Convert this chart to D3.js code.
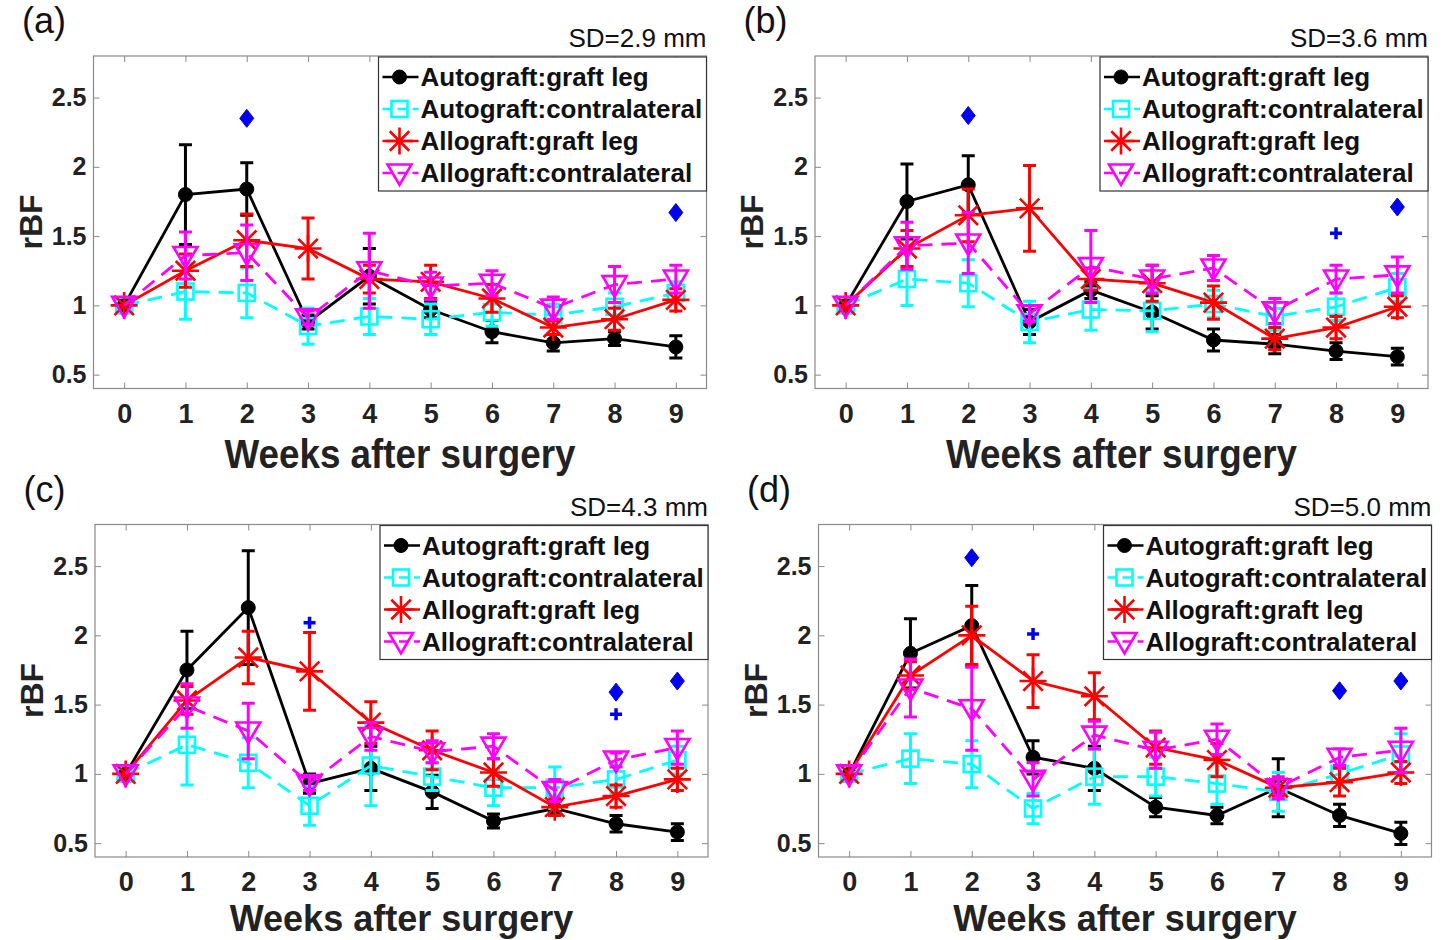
<!DOCTYPE html>
<html lang="en">
<head>
<meta charset="utf-8">
<title>rBF after surgery</title>
<script src="https://d3js.org/d3.v7.min.js"></script>
<style>
  body { margin: 0; background: #fff; }
  text { font-family: "Liberation Sans", Arial, sans-serif; }
</style>
</head>
<body>
<svg id="fig" width="1447" height="940"></svg>
<script>
// ---- data ----
var weeks = [0, 1, 2, 3, 4, 5, 6, 7, 8, 9]
var yTicks = [0.5, 1, 1.5, 2, 2.5]
var seriesNames = ["Autograft:graft leg", "Autograft:contralateral", "Allograft:graft leg", "Allograft:contralateral"]
var panelLabels = ["(a)", "(b)", "(c)", "(d)"]
var sdLabels = ["SD=2.9 mm", "SD=3.6 mm", "SD=4.3 mm", "SD=5.0 mm"]

// (a)
var aAutoGraft     = [1, 1.80, 1.84, 0.88, 1.21, 0.97, 0.81, 0.73, 0.76, 0.70]
var aAutoGraftErr  = [0, 0.36, 0.19, 0.05, 0.20, 0.06, 0.08, 0.06, 0.05, 0.08]
var aAutoContra    = [1, 1.10, 1.09, 0.85, 0.92, 0.90, 0.95, 0.93, 0.99, 1.09]
var aAutoContraErr = [0, 0.20, 0.18, 0.13, 0.13, 0.11, 0.10, 0.08, 0.10, 0.08]
var aAlloGraft     = [1, 1.25, 1.47, 1.41, 1.19, 1.17, 1.05, 0.84, 0.90, 1.04]
var aAlloGraftErr  = [0, 0.12, 0.19, 0.22, 0.10, 0.12, 0.10, 0.05, 0.08, 0.08]
var aAlloContra    = [1, 1.36, 1.38, 0.91, 1.25, 1.14, 1.16, 0.98, 1.15, 1.19]
var aAlloContraErr = [0, 0.17, 0.20, 0.05, 0.27, 0.10, 0.09, 0.08, 0.13, 0.10]
var aDiamond = [[2, 2.35], [9, 1.67]]
var aPlus = []

// (b)
var bAutoGraft     = [1, 1.75, 1.87, 0.88, 1.11, 0.95, 0.75, 0.72, 0.67, 0.63]
var bAutoGraftErr  = [0, 0.27, 0.21, 0.09, 0.06, 0.12, 0.08, 0.07, 0.06, 0.06]
var bAutoContra    = [1, 1.19, 1.16, 0.88, 0.97, 0.96, 1.01, 0.92, 0.99, 1.13]
var bAutoContraErr = [0, 0.19, 0.17, 0.15, 0.15, 0.15, 0.10, 0.10, 0.10, 0.10]
var bAlloGraft     = [1, 1.41, 1.65, 1.70, 1.19, 1.16, 1.02, 0.76, 0.84, 0.99]
var bAlloGraftErr  = [0, 0.13, 0.19, 0.31, 0.08, 0.13, 0.12, 0.08, 0.08, 0.08]
var bAlloContra    = [1, 1.43, 1.45, 0.94, 1.28, 1.19, 1.27, 0.96, 1.19, 1.22]
var bAlloContraErr = [0, 0.17, 0.22, 0.06, 0.26, 0.10, 0.09, 0.09, 0.10, 0.13]
var bDiamond = [[2, 2.37], [9, 1.71]]
var bPlus = [[8, 1.52]]

// (c)
var cAutoGraft     = [1, 1.75, 2.20, 0.93, 1.04, 0.87, 0.66, 0.75, 0.64, 0.58]
var cAutoGraftErr  = [0, 0.28, 0.41, 0.07, 0.16, 0.12, 0.05, 0.05, 0.06, 0.06]
var cAutoContra    = [1, 1.21, 1.08, 0.77, 1.06, 0.98, 0.90, 0.90, 0.96, 1.10]
var cAutoContraErr = [0, 0.29, 0.18, 0.14, 0.29, 0.10, 0.13, 0.15, 0.10, 0.10]
var cAlloGraft     = [1, 1.53, 1.84, 1.74, 1.37, 1.17, 1.01, 0.76, 0.84, 0.96]
var cAlloGraftErr  = [0, 0.10, 0.19, 0.28, 0.15, 0.14, 0.10, 0.06, 0.08, 0.08]
var cAlloContra    = [1, 1.49, 1.31, 0.93, 1.27, 1.16, 1.20, 0.88, 1.10, 1.19]
var cAlloContraErr = [0, 0.16, 0.20, 0.05, 0.10, 0.08, 0.09, 0.08, 0.05, 0.12]
var cDiamond = [[8, 1.59], [9, 1.67]]
var cPlus = [[3, 2.09], [8, 1.43]]

// (d)
var dAutoGraft     = [1, 1.87, 2.07, 1.12, 1.04, 0.76, 0.70, 0.90, 0.70, 0.57]
var dAutoGraftErr  = [0, 0.25, 0.29, 0.12, 0.16, 0.07, 0.06, 0.21, 0.08, 0.08]
var dAutoContra    = [1, 1.11, 1.07, 0.75, 0.98, 0.98, 0.93, 0.87, 1.00, 1.14]
var dAutoContraErr = [0, 0.18, 0.17, 0.11, 0.20, 0.14, 0.15, 0.14, 0.10, 0.15]
var dAlloGraft     = [1, 1.71, 2.00, 1.67, 1.56, 1.19, 1.10, 0.90, 0.94, 1.01]
var dAlloGraftErr  = [0, 0.10, 0.21, 0.19, 0.17, 0.12, 0.12, 0.06, 0.10, 0.08]
var dAlloContra    = [1, 1.62, 1.47, 0.96, 1.28, 1.17, 1.25, 0.90, 1.12, 1.17]
var dAlloContraErr = [0, 0.21, 0.30, 0.12, 0.10, 0.13, 0.11, 0.08, 0.06, 0.16]
var dDiamond = [[2, 2.56], [8, 1.60], [9, 1.67]]
var dPlus = [[3, 2.01]]

// ---- layout / style ----
var W = 613, H = 332.5
var boxes = [{ left: 93.5, top: 56 }, { left: 815, top: 56 }, { left: 95, top: 524.5 }, { left: 818.5, top: 524.5 }]
var styles = [
    { color: "#000000", dash: null, marker: "circle" },
    { color: "#00ffff", dash: "15,9", marker: "square" },
    { color: "#ff0000", dash: null, marker: "star" },
    { color: "#ff00ff", dash: "15,9", marker: "tri" }
]

var panels = [
    { means: [aAutoGraft, aAutoContra, aAlloGraft, aAlloContra], errs: [aAutoGraftErr, aAutoContraErr, aAlloGraftErr, aAlloContraErr], diamond: aDiamond, plus: aPlus },
    { means: [bAutoGraft, bAutoContra, bAlloGraft, bAlloContra], errs: [bAutoGraftErr, bAutoContraErr, bAlloGraftErr, bAlloContraErr], diamond: bDiamond, plus: bPlus },
    { means: [cAutoGraft, cAutoContra, cAlloGraft, cAlloContra], errs: [cAutoGraftErr, cAutoContraErr, cAlloGraftErr, cAlloContraErr], diamond: cDiamond, plus: cPlus },
    { means: [dAutoGraft, dAutoContra, dAlloGraft, dAlloContra], errs: [dAutoGraftErr, dAutoContraErr, dAlloGraftErr, dAlloContraErr], diamond: dDiamond, plus: dPlus }
]

var x = d3.scaleLinear().domain([-0.5, 9.5]).range([0, W])
var y = d3.scaleLinear().domain([0.4, 2.8]).range([H, 0])

function drawMarker(g, type, cx, cy, color) {
    if (type == "circle") {
        g.append("circle").attr("cx", cx).attr("cy", cy).attr("r", 7)
            .attr("fill", color).attr("stroke", color).attr("stroke-width", 1)
    } else if (type == "square") {
        g.append("rect").attr("x", cx - 8).attr("y", cy - 8).attr("width", 16).attr("height", 16)
            .attr("fill", "none").attr("stroke", color).attr("stroke-width", 2.6)
    } else if (type == "star") {
        var r = 13.5, q = r * 0.72
        var p = "M" + (cx - r) + "," + cy + "H" + (cx + r) +
            "M" + cx + "," + (cy - r) + "V" + (cy + r) +
            "M" + (cx - q) + "," + (cy - q) + "L" + (cx + q) + "," + (cy + q) +
            "M" + (cx - q) + "," + (cy + q) + "L" + (cx + q) + "," + (cy - q)
        g.append("path").attr("d", p).attr("stroke", color).attr("stroke-width", 2.6).attr("fill", "none")
    } else if (type == "tri") {
        var p2 = "M" + (cx - 12) + "," + (cy - 8.5) + "L" + (cx + 12) + "," + (cy - 8.5) + "L" + cx + "," + (cy + 12) + "Z"
        g.append("path").attr("d", p2).attr("fill", "none").attr("stroke", color).attr("stroke-width", 2.6)
    } else if (type == "diamond") {
        var p3 = "M" + cx + "," + (cy - 9) + "L" + (cx + 7) + "," + cy + "L" + cx + "," + (cy + 9) + "L" + (cx - 7) + "," + cy + "Z"
        g.append("path").attr("d", p3).attr("fill", color).attr("stroke", color).attr("stroke-width", 1)
    } else if (type == "plus") {
        g.append("path").attr("d", "M" + (cx - 6) + "," + cy + "H" + (cx + 6) + "M" + cx + "," + (cy - 6) + "V" + (cy + 6))
            .attr("stroke", color).attr("stroke-width", 3.5)
    }
}

var fig = d3.select("#fig")

panels.forEach(function(pd, i) {
    var b = boxes[i]
    var g = fig.append("g").attr("transform", "translate(" + b.left + "," + b.top + ")")

    // axes with inward ticks on all four sides
    var tickCol = "#8a8a8a"
    var bottom = g.append("g").attr("transform", "translate(0," + H + ")")
        .call(d3.axisBottom(x).tickValues(weeks).tickSize(-6).tickPadding(15).tickFormat(function(d) { return d }))
    var top = g.append("g").call(d3.axisTop(x).tickValues(weeks).tickSize(-6).tickFormat(""))
    var left = g.append("g")
        .call(d3.axisLeft(y).tickValues(yTicks).tickSize(-6).tickPadding(7).tickFormat(function(d) { return String(d) }))
    var right = g.append("g").attr("transform", "translate(" + W + ",0)")
        .call(d3.axisRight(y).tickValues(yTicks).tickSize(-6).tickFormat(""))
    ;[bottom, top, left, right].forEach(function(a) {
        a.select(".domain").remove()
        a.selectAll(".tick line").attr("stroke", tickCol).attr("stroke-width", 1)
    })
    bottom.selectAll("text").attr("font-size", 27).attr("font-weight", "bold").attr("fill", "#222")
    left.selectAll("text").attr("font-size", 25).attr("font-weight", "bold").attr("fill", "#222")

    g.append("rect").attr("width", W).attr("height", H)
        .attr("fill", "none").attr("stroke", tickCol).attr("stroke-width", 1.2)

    // series
    pd.means.forEach(function(vals, s) {
        var st = styles[s]
        var errs = pd.errs[s]
        var sg = g.append("g")
        var line = d3.line().x(function(d, k) { return x(weeks[k]) }).y(function(d) { return y(d) })
        sg.append("path").datum(vals).attr("d", line)
            .attr("fill", "none").attr("stroke", st.color).attr("stroke-width", 2.8)
            .attr("stroke-dasharray", st.dash)
        vals.forEach(function(v, k) {
            var e = errs[k]
            if (e > 0) {
                var cx = x(weeks[k])
                var y1 = y(v + e), y0 = y(v - e)
                sg.append("path")
                    .attr("d", "M" + cx + "," + y1 + "V" + y0 + "M" + (cx - 6.5) + "," + y1 + "H" + (cx + 6.5) + "M" + (cx - 6.5) + "," + y0 + "H" + (cx + 6.5))
                    .attr("stroke", st.color).attr("stroke-width", 3).attr("fill", "none")
            }
        })
        vals.forEach(function(v, k) { drawMarker(sg, st.marker, x(weeks[k]), y(v), st.color) })
    })

    // significance markers
    pd.diamond.forEach(function(p) { drawMarker(g, "diamond", x(p[0]), y(p[1]), "#0000ee") })
    pd.plus.forEach(function(p) { drawMarker(g, "plus", x(p[0]), y(p[1]), "#0000ee") })

    // legend
    var lw = 328, lh = 134
    var lg = g.append("g").attr("transform", "translate(" + (W - lw) + ",1)")
    lg.append("rect").attr("width", lw).attr("height", lh).attr("fill", "#fff").attr("stroke", "#333").attr("stroke-width", 1.2)
    seriesNames.forEach(function(name, s) {
        var st = styles[s]
        var ry = 20 + s * 32
        lg.append("line").attr("x1", 4).attr("x2", 40).attr("y1", ry).attr("y2", ry)
            .attr("stroke", st.color).attr("stroke-width", 2.6).attr("stroke-dasharray", st.dash ? "9,6" : null)
        drawMarker(lg, st.marker, 21, ry, st.color)
        lg.append("text").attr("x", 42).attr("y", ry).attr("dy", "0.36em")
            .attr("font-size", 26).attr("font-weight", "bold").attr("fill", "#111").text(name)
    })

    // labels
    fig.append("text").attr("x", b.left - 71.5).attr("y", b.top - 23)
        .attr("font-size", 36).attr("fill", "#111").text(panelLabels[i])
    fig.append("text").attr("x", b.left + W).attr("y", b.top - 9).attr("text-anchor", "end")
        .attr("font-size", 26).attr("fill", "#111").text(sdLabels[i])
    // bottom row label sits against the page edge, so it is a bit smaller
    var lowRow = b.top > 300
    var xlY = lowRow ? 931 : b.top + H + 79
    fig.append("text").attr("transform", "translate(" + (b.left + W / 2) + "," + xlY + ") scale(" + (lowRow ? 1 : 0.92) + ",1)")
        .attr("text-anchor", "middle")
        .attr("font-size", lowRow ? 36 : 40).attr("font-weight", "bold").attr("fill", "#222").text("Weeks after surgery")
    fig.append("text").attr("transform", "translate(" + (b.left - 52) + "," + (b.top + 166) + ") rotate(-90)")
        .attr("text-anchor", "middle").attr("font-size", 32).attr("font-weight", "bold").attr("fill", "#222").text("rBF")
})
</script>
</body>
</html>
